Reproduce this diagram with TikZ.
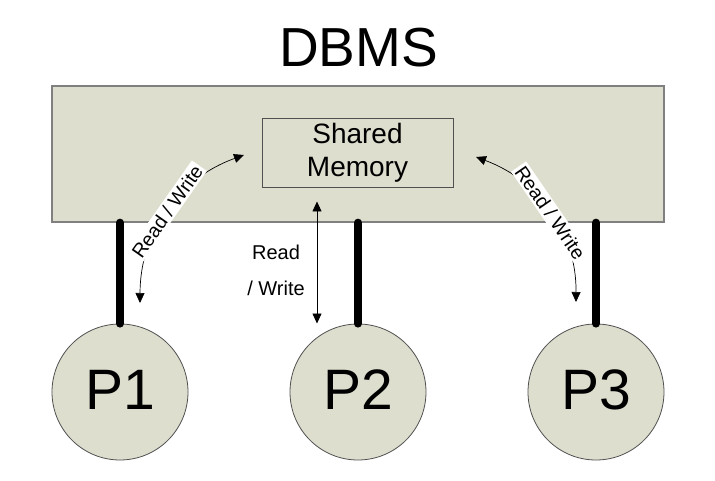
\documentclass[tikz,border=0pt]{standalone}
\usepackage{fontspec}
\setmainfont{Liberation Sans}
\usetikzlibrary{arrows.meta}
\definecolor{dbfill}{RGB}{221,222,206}
\definecolor{dbline}{RGB}{128,128,128}
\definecolor{ringline}{RGB}{80,80,80}
\tikzset{
    dbbox/.style={draw=dbline,line width=1.3pt,fill=dbfill,minimum width=612pt,minimum height=136pt,inner sep=0pt},
    membox/.style={draw=ringline,line width=0.8pt,minimum width=191pt,minimum height=69pt,align=center,inner sep=0pt,font=\fontsize{28}{33.3}\selectfont},
    proc/.style={circle,draw=ringline,line width=0.8pt,fill=dbfill,minimum size=136pt,inner sep=0pt,text height=41pt,text depth=7pt,font=\fontsize{57}{60}\selectfont},
    bar/.style={line width=8pt,line cap=round},
    rw/.style={{Triangle[length=10pt,width=9pt]}-{Triangle[length=10pt,width=9pt]},line width=0.7pt},
    rwlabel/.style={fill=white,inner sep=2pt,font=\fontsize{19.5}{22}\selectfont}
}
\begin{document}
\begin{tikzpicture}[x=1pt,y=-1pt]
                \useasboundingbox (0,0) rectangle (715,481);
                \node[anchor=base,font=\fontsize{55}{60}\selectfont] (title) at (358.5,67) {DBMS};
                \node[dbbox] (db) at (358,154) {};
                \node[membox] (mem) at (357.5,152.5) {Shared\\Memory};

                \foreach \S/\x in {P1/120,P2/358,P3/596}
                {
                    \node[proc] (\S) at (\x,392) {\S};
                    \draw[bar] (\S.north) -- (\S.north |- db.south);
                }

                \coordinate (lbot) at (140,303);
                \coordinate (ltop) at (244,155);
                \coordinate (rtop) at (476,157);
                \coordinate (rbot) at (576,302);
                \coordinate (mtop) at (317,201.5);
                \coordinate (mbot) at (317,323.5);

                \draw[rw] (lbot) to[bend left=35] node[rwlabel,sloped] {Read / Write} (ltop);
                \draw[rw] (rtop) to[bend left=35] node[rwlabel,sloped] {Read / Write} (rbot);
                \draw[rw] (mtop) -- (mbot);
                \node[align=center,font=\fontsize{20}{36}\selectfont] (rwmid) at (276,270) {Read\\/ Write};
            \end{tikzpicture}
\end{document}
